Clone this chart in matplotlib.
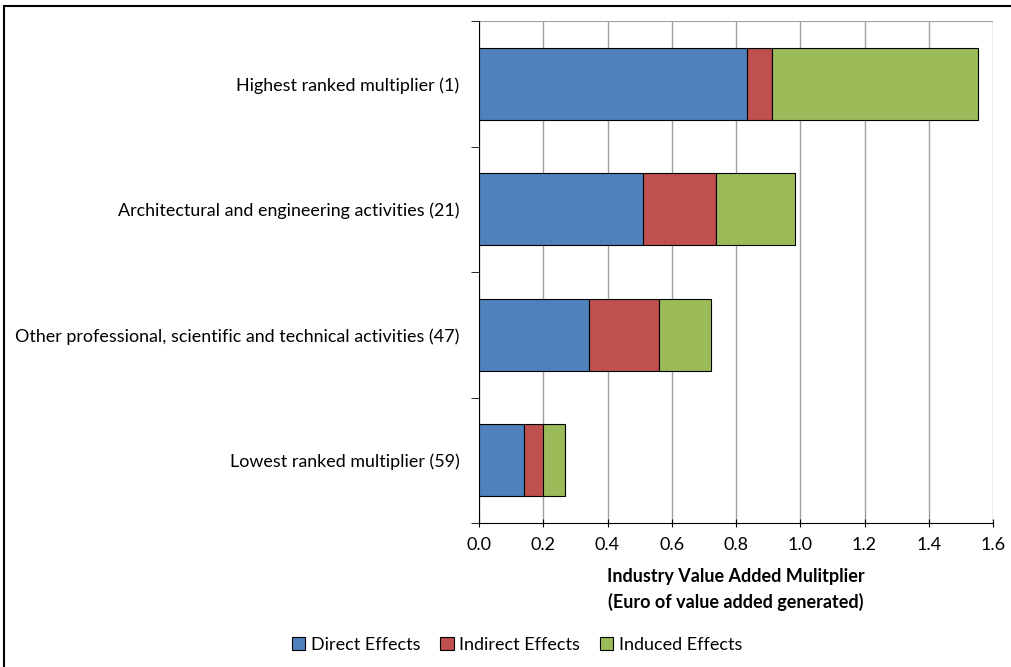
import matplotlib
matplotlib.use("Agg")
import matplotlib.pyplot as plt
from matplotlib.patches import Rectangle

categories = ["Highest ranked multiplier (1)",
              "Architectural and engineering activities (21)",
              "Other professional, scientific and technical activities (47)",
              "Lowest ranked multiplier (59)"]
direct = [0.834, 0.511, 0.342, 0.140]
indirect = [0.078, 0.227, 0.218, 0.059]
induced = [0.641, 0.246, 0.162, 0.069]
series_names = ["Direct Effects", "Indirect Effects", "Induced Effects"]
colors = ["#4F81BD", "#C0504D", "#9BBB59"]
xticks = [0.0, 0.2, 0.4, 0.6, 0.8, 1.0, 1.2, 1.4, 1.6]

plt.rcParams['font.family'] = ['Lato', 'DejaVu Sans']

fig = plt.figure(figsize=(10.11, 6.67), dpi=100)
ax = fig.add_axes([479/1011, 1-523/667, (993-479)/1011, (523-21)/667])

y = list(range(len(categories)))
left = [0]*len(categories)
for vals, name, c in zip([direct, indirect, induced], series_names, colors):
    ax.barh(y, vals, left=left, height=0.574, color=c, edgecolor="black",
            linewidth=0.8, label=name, zorder=3)
    left = [l + v for l, v in zip(left, vals)]

ax.set_ylim(3.5, -0.5)
ax.set_xlim(0, 1.6)
ax.set_xticks(xticks)
ax.set_xticklabels([f"{t:.1f}" for t in xticks], fontsize=13)
ax.set_yticks(y)
ax.set_yticklabels(categories, fontsize=12.9)
ax.tick_params(axis='y', length=0, pad=14)
ax.set_yticks([-0.5, 0.5, 1.5, 2.5, 3.5], minor=True)
ax.tick_params(axis='y', which='minor', length=6, direction='out', color='black')
ax.tick_params(axis='x', length=6, direction='inout', color='black', pad=7)
ax.grid(axis='x', color='#A0A0A0', linewidth=1, zorder=0)
for s in ['top', 'right']:
    ax.spines[s].set_visible(False)
ax.axhline(-0.5, color='#A0A0A0', linewidth=1.5, zorder=1)
ax.spines['left'].set_color('black')
ax.spines['bottom'].set_color('black')

ax.set_xlabel("Industry Value Added Mulitplier\n(Euro of value added generated)",
              fontsize=13, fontweight='bold', labelpad=11, linespacing=1.5)

leg = fig.legend(loc='center', bbox_to_anchor=(517/1011, 1-645/667), ncol=3,
                 frameon=False, fontsize=13, handlelength=0.75, handleheight=0.75,
                 handletextpad=0.3, columnspacing=1.1)

fig.patches.append(Rectangle((4/1011, -0.1), 1.1, 1.1-6/667, transform=fig.transFigure,
                             fill=False, edgecolor='black', linewidth=1.5))

fig.savefig("out.png", dpi=100)
